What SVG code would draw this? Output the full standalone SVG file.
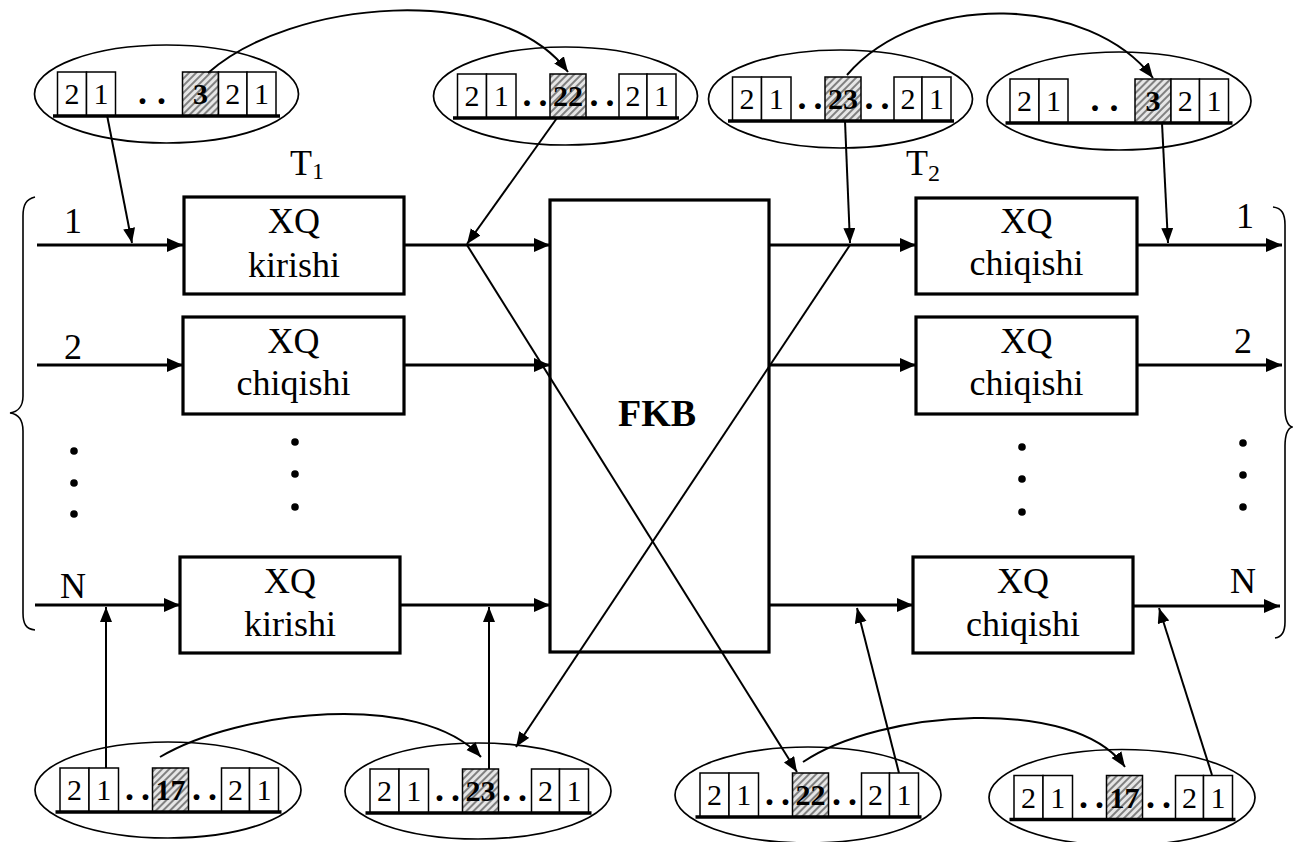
<svg xmlns="http://www.w3.org/2000/svg" width="1293" height="842" viewBox="0 0 1293 842" font-family="'Liberation Serif', 'Times New Roman', 'DejaVu Serif', serif">
<defs>
<pattern id="hatch" width="5" height="5" patternUnits="userSpaceOnUse" patternTransform="rotate(45)">
<rect width="5" height="5" fill="#e6e6e6"/><rect width="2" height="5" fill="#808080"/>
</pattern>
<marker id="ah" markerUnits="userSpaceOnUse" markerWidth="17" markerHeight="15" refX="16" refY="7" orient="auto"><path d="M0,0 L16,7 L0,14 z" fill="#000"/></marker>
<marker id="at" markerUnits="userSpaceOnUse" markerWidth="16" markerHeight="13" refX="15" refY="6" orient="auto"><path d="M0,0 L15,6 L0,12 z" fill="#000"/></marker>
</defs>
<style>
text{font-family:'Liberation Serif','Times New Roman','DejaVu Serif',serif;fill:#000}
.box{fill:#fff;stroke:#000;stroke-width:3.2}
.lbl{font-size:36px;text-anchor:middle}
.sub{font-size:24px}
.cell{fill:#fff;stroke:#000;stroke-width:1.5}
.sh{fill:url(#hatch);stroke:#000;stroke-width:1.5}
.ct{font-size:30px;text-anchor:middle}
.cb{font-size:30px;text-anchor:middle;font-weight:bold}
.dd{font-size:36px;font-weight:bold}
.ell{fill:none;stroke:#000;stroke-width:1.7}
.base{stroke:#000;stroke-width:3.5}
.thick{stroke:#000;stroke-width:3.2;fill:none}
.thin{stroke:#000;stroke-width:2;fill:none}
.brace{stroke:#000;stroke-width:1.6;fill:none}
</style>
<rect width="1293" height="842" fill="#fff"/>

<!-- braces and side labels -->
<g id="brace-left"><path class="brace" d="M35,197 C26,199 23,205 23,216 L23,396 C23,406 18,412 10,413 C18,414 23,420 23,431 L23,613 C23,624 26,629 35,630"/></g>
<g id="brace-right"><path class="brace" d="M1273,207 C1282,208 1285,214 1285,225 L1285,408 C1285,419 1287,425 1292,427 C1287,429 1285,435 1285,446 L1285,622 C1285,632 1282,637 1275,638"/></g>

<g id="in-labels">
<text class="lbl" x="73" y="233">1</text>
<text class="lbl" x="73" y="359">2</text>
<text class="lbl" x="73" y="598">N</text>
<circle cx="74" cy="451" r="3.8"/><circle cx="74" cy="483" r="3.8"/><circle cx="74" cy="514" r="3.8"/>
</g>
<g id="out-labels">
<text class="lbl" x="1245" y="228">1</text>
<text class="lbl" x="1243" y="353">2</text>
<text class="lbl" x="1243" y="593">N</text>
<circle cx="1243" cy="443" r="3.8"/><circle cx="1243" cy="475" r="3.8"/><circle cx="1243" cy="507" r="3.8"/>
</g>

<!-- T labels -->
<g id="t1"><text x="290" y="175" font-size="36">T<tspan class="sub" dy="4">1</tspan></text></g>
<g id="t2"><text x="906" y="175" font-size="36">T<tspan class="sub" dy="6">2</tspan></text></g>

<!-- blocks -->
<g id="in1"><rect class="box" x="184" y="197" width="220" height="97"/><text class="lbl" x="294" y="233">XQ</text><text class="lbl" x="294" y="277">kirishi</text></g>
<g id="in2"><rect class="box" x="183" y="317" width="221" height="97"/><text class="lbl" x="293.5" y="353">XQ</text><text class="lbl" x="293.5" y="395">chiqishi</text></g>
<g id="inN"><rect class="box" x="180" y="557" width="220" height="96"/><text class="lbl" x="290" y="593">XQ</text><text class="lbl" x="290" y="636">kirishi</text></g>
<g id="in-dots"><circle cx="295" cy="442" r="3.8"/><circle cx="295" cy="474" r="3.8"/><circle cx="295" cy="507" r="3.8"/></g>

<g id="fkb"><rect class="box" x="550" y="200" width="219" height="452"/><text x="657" y="426" font-size="38" font-weight="bold" text-anchor="middle">FKB</text></g>

<g id="out1"><rect class="box" x="916" y="198" width="221" height="96"/><text class="lbl" x="1026.5" y="233">XQ</text><text class="lbl" x="1026.5" y="275">chiqishi</text></g>
<g id="out2"><rect class="box" x="916" y="317" width="221" height="97"/><text class="lbl" x="1026.5" y="353">XQ</text><text class="lbl" x="1026.5" y="395">chiqishi</text></g>
<g id="outN"><rect class="box" x="913" y="557" width="220" height="96"/><text class="lbl" x="1023" y="593">XQ</text><text class="lbl" x="1023" y="636">chiqishi</text></g>
<g id="out-dots"><circle cx="1022" cy="447" r="3.8"/><circle cx="1022" cy="479" r="3.8"/><circle cx="1022" cy="512" r="3.8"/></g>

<!-- packet ellipses: type A -->
<g id="pkt-tl" transform="translate(166.5,94)">
<ellipse class="ell" cx="0" cy="0" rx="132" ry="49"/>
<rect class="cell" x="-109" y="-22" width="29" height="44"/><text class="ct" x="-94.5" y="10">2</text>
<rect class="cell" x="-80" y="-22" width="29" height="44"/><text class="ct" x="-65.5" y="10">1</text>
<text class="dd" x="-28.5" y="10" letter-spacing="10">..</text>
<rect class="sh" x="16" y="-22" width="36" height="44"/><text class="cb" x="34" y="10">3</text>
<rect class="cell" x="52" y="-22" width="28.5" height="44"/><text class="ct" x="66.25" y="10">2</text>
<rect class="cell" x="80.5" y="-22" width="29" height="44"/><text class="ct" x="95" y="10">1</text>
<line class="base" x1="-113.5" y1="22" x2="113.5" y2="22"/>
</g>
<g id="pkt-tr" transform="translate(1119,101)">
<ellipse class="ell" cx="0" cy="0" rx="132" ry="49"/>
<rect class="cell" x="-109" y="-22" width="29" height="44"/><text class="ct" x="-94.5" y="10">2</text>
<rect class="cell" x="-80" y="-22" width="29" height="44"/><text class="ct" x="-65.5" y="10">1</text>
<text class="dd" x="-28.5" y="10" letter-spacing="10">..</text>
<rect class="sh" x="16" y="-22" width="36" height="44"/><text class="cb" x="34" y="10">3</text>
<rect class="cell" x="52" y="-22" width="28.5" height="44"/><text class="ct" x="66.25" y="10">2</text>
<rect class="cell" x="80.5" y="-22" width="29" height="44"/><text class="ct" x="95" y="10">1</text>
<line class="base" x1="-113.5" y1="22" x2="113.5" y2="22"/>
</g>

<!-- type B -->
<g id="pkt-t22" transform="translate(565.5,96)">
<ellipse class="ell" cx="0" cy="0" rx="132" ry="49"/>
<rect class="cell" x="-108" y="-22" width="29" height="44"/><text class="ct" x="-93.5" y="10">2</text>
<rect class="cell" x="-79" y="-22" width="29.5" height="44"/><text class="ct" x="-64.25" y="10">1</text>
<text class="dd" x="-43" y="10" letter-spacing="7">..</text>
<rect class="sh" x="-15.5" y="-22" width="36" height="44"/><text class="cb" x="2.5" y="10">22</text>
<text class="dd" x="24" y="10" letter-spacing="7">..</text>
<rect class="cell" x="53.5" y="-22" width="28" height="44"/><text class="ct" x="67.5" y="10">2</text>
<rect class="cell" x="81.5" y="-22" width="29" height="44"/><text class="ct" x="96" y="10">1</text>
<line class="base" x1="-112.5" y1="22" x2="113.5" y2="22"/>
</g>
<g id="pkt-t23" transform="translate(840.5,99)">
<ellipse class="ell" cx="0" cy="0" rx="132" ry="49"/>
<rect class="cell" x="-108" y="-22" width="29" height="44"/><text class="ct" x="-93.5" y="10">2</text>
<rect class="cell" x="-79" y="-22" width="29.5" height="44"/><text class="ct" x="-64.25" y="10">1</text>
<text class="dd" x="-43" y="10" letter-spacing="7">..</text>
<rect class="sh" x="-15.5" y="-22" width="36" height="44"/><text class="cb" x="2.5" y="10">23</text>
<text class="dd" x="24" y="10" letter-spacing="7">..</text>
<rect class="cell" x="53.5" y="-22" width="28" height="44"/><text class="ct" x="67.5" y="10">2</text>
<rect class="cell" x="81.5" y="-22" width="29" height="44"/><text class="ct" x="96" y="10">1</text>
<line class="base" x1="-112.5" y1="22" x2="113.5" y2="22"/>
</g>
<g id="pkt-b17" transform="translate(168,790)">
<ellipse class="ell" cx="0" cy="0" rx="133" ry="48"/>
<rect class="cell" x="-108" y="-22" width="29" height="44"/><text class="ct" x="-93.5" y="10">2</text>
<rect class="cell" x="-79" y="-22" width="29.5" height="44"/><text class="ct" x="-64.25" y="10">1</text>
<text class="dd" x="-43" y="10" letter-spacing="7">..</text>
<rect class="sh" x="-15.5" y="-22" width="36" height="44"/><text class="cb" x="2.5" y="10">17</text>
<text class="dd" x="24" y="10" letter-spacing="7">..</text>
<rect class="cell" x="53.5" y="-22" width="28" height="44"/><text class="ct" x="67.5" y="10">2</text>
<rect class="cell" x="81.5" y="-22" width="29" height="44"/><text class="ct" x="96" y="10">1</text>
<line class="base" x1="-112.5" y1="22" x2="113.5" y2="22"/>
</g>
<g id="pkt-b23" transform="translate(478,791)">
<ellipse class="ell" cx="0" cy="0" rx="133" ry="48"/>
<rect class="cell" x="-108" y="-22" width="29" height="44"/><text class="ct" x="-93.5" y="10">2</text>
<rect class="cell" x="-79" y="-22" width="29.5" height="44"/><text class="ct" x="-64.25" y="10">1</text>
<text class="dd" x="-43" y="10" letter-spacing="7">..</text>
<rect class="sh" x="-15.5" y="-22" width="36" height="44"/><text class="cb" x="2.5" y="10">23</text>
<text class="dd" x="24" y="10" letter-spacing="7">..</text>
<rect class="cell" x="53.5" y="-22" width="28" height="44"/><text class="ct" x="67.5" y="10">2</text>
<rect class="cell" x="81.5" y="-22" width="29" height="44"/><text class="ct" x="96" y="10">1</text>
<line class="base" x1="-112.5" y1="22" x2="113.5" y2="22"/>
</g>
<g id="pkt-b22" transform="translate(808,795)">
<ellipse class="ell" cx="0" cy="0" rx="133" ry="48"/>
<rect class="cell" x="-108" y="-22" width="29" height="44"/><text class="ct" x="-93.5" y="10">2</text>
<rect class="cell" x="-79" y="-22" width="29.5" height="44"/><text class="ct" x="-64.25" y="10">1</text>
<text class="dd" x="-43" y="10" letter-spacing="7">..</text>
<rect class="sh" x="-15.5" y="-22" width="36" height="44"/><text class="cb" x="2.5" y="10">22</text>
<text class="dd" x="24" y="10" letter-spacing="7">..</text>
<rect class="cell" x="53.5" y="-22" width="28" height="44"/><text class="ct" x="67.5" y="10">2</text>
<rect class="cell" x="81.5" y="-22" width="29" height="44"/><text class="ct" x="96" y="10">1</text>
<line class="base" x1="-112.5" y1="22" x2="113.5" y2="22"/>
</g>
<g id="pkt-b17r" transform="translate(1122,797.5)">
<ellipse class="ell" cx="0" cy="0" rx="133" ry="48"/>
<rect class="cell" x="-108" y="-22" width="29" height="44"/><text class="ct" x="-93.5" y="10">2</text>
<rect class="cell" x="-79" y="-22" width="29.5" height="44"/><text class="ct" x="-64.25" y="10">1</text>
<text class="dd" x="-43" y="10" letter-spacing="7">..</text>
<rect class="sh" x="-15.5" y="-22" width="36" height="44"/><text class="cb" x="2.5" y="10">17</text>
<text class="dd" x="24" y="10" letter-spacing="7">..</text>
<rect class="cell" x="53.5" y="-22" width="28" height="44"/><text class="ct" x="67.5" y="10">2</text>
<rect class="cell" x="81.5" y="-22" width="29" height="44"/><text class="ct" x="96" y="10">1</text>
<line class="base" x1="-112.5" y1="22" x2="113.5" y2="22"/>
</g>

<!-- connectors (drawn on top so the crossing lines pass over FKB) -->
<g id="connectors">
<line class="thick" x1="37" y1="245" x2="183" y2="245" marker-end="url(#ah)"/>
<line class="thick" x1="37" y1="365" x2="183" y2="365" marker-end="url(#ah)"/>
<line class="thick" x1="35" y1="605" x2="180" y2="605" marker-end="url(#ah)"/>
<line class="thick" x1="404" y1="245" x2="550" y2="245" marker-end="url(#ah)"/>
<line class="thick" x1="404" y1="365" x2="550" y2="365" marker-end="url(#ah)"/>
<line class="thick" x1="400" y1="605" x2="550" y2="605" marker-end="url(#ah)"/>
<line class="thick" x1="770" y1="245" x2="916" y2="245" marker-end="url(#ah)"/>
<line class="thick" x1="770" y1="365" x2="916" y2="365" marker-end="url(#ah)"/>
<line class="thick" x1="770" y1="605" x2="913" y2="605" marker-end="url(#ah)"/>
<line class="thick" x1="1137" y1="245" x2="1282" y2="245" marker-end="url(#ah)"/>
<line class="thick" x1="1137" y1="365" x2="1282" y2="365" marker-end="url(#ah)"/>
<line class="thick" x1="1133" y1="606" x2="1280" y2="606" marker-end="url(#ah)"/>

<line class="thin" x1="107" y1="115" x2="132" y2="243" marker-end="url(#at)"/>
<path class="thin" d="M208,73 C290,0 500,-20 568,72" marker-end="url(#at)"/>
<line class="thin" x1="557" y1="118" x2="467" y2="244" marker-end="url(#at)"/>
<line class="thin" x1="467" y1="245" x2="797" y2="772" marker-end="url(#at)"/>
<line class="thin" x1="850" y1="245" x2="516" y2="747" marker-end="url(#at)"/>
<path class="thin" d="M847,75 C920,-10 1090,-5 1153,78" marker-end="url(#at)"/>
<line class="thin" x1="845" y1="121" x2="850" y2="243" marker-end="url(#at)"/>
<line class="thin" x1="1162" y1="123" x2="1168" y2="243" marker-end="url(#at)"/>
<line class="thin" x1="106" y1="768" x2="106" y2="607" marker-end="url(#at)"/>
<path class="thin" d="M160,757 C240,710 420,690 481,757" marker-end="url(#at)"/>
<line class="thin" x1="489" y1="769" x2="489" y2="607" marker-end="url(#at)"/>
<line class="thin" x1="899" y1="773" x2="857" y2="608" marker-end="url(#at)"/>
<path class="thin" d="M803,762 C880,710 1075,695 1125,767" marker-end="url(#at)"/>
<line class="thin" x1="1212" y1="775" x2="1159" y2="608" marker-end="url(#at)"/>
</g>
</svg>
